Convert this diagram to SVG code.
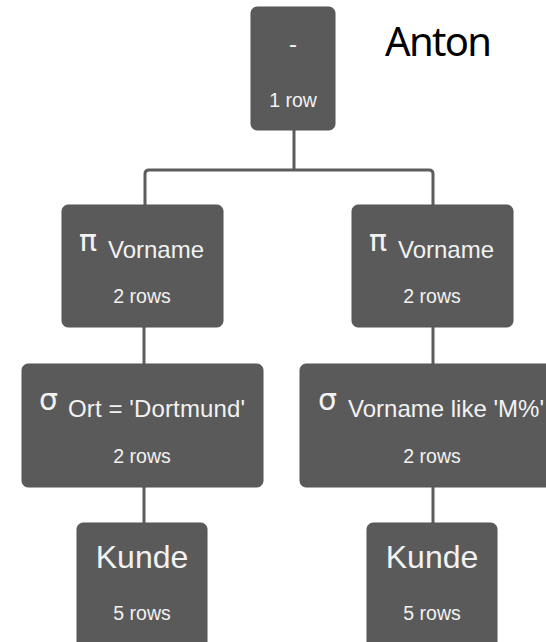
<svg xmlns="http://www.w3.org/2000/svg" width="546" height="642" viewBox="0 0 546 642">
<style>
.box{fill:#5a5a5a;stroke:#545454;stroke-width:1}
.conn{fill:none;stroke:#5c5c5c;stroke-width:3}
.t{font-family:"Liberation Sans",Arial,sans-serif;fill:#f2f2f2}
.title{font-size:24px}
.sym{font-size:30px;font-family:"DejaVu Sans","Liberation Sans",sans-serif;fill:#f2f2f2}
.rows{font-size:19.5px;text-anchor:middle}
.big{font-size:32px;text-anchor:middle}
.anton{font-family:"Noto Sans","Open Sans",sans-serif;font-size:40px;fill:#000}
</style>
<rect width="546" height="642" fill="#ffffff"/>
<g id="connectors">
<path class="conn" d="M294 130 V170"/>
<path class="conn" d="M145 205 V174 Q145 170 149 170 H429 Q433 170 433 174 V205"/>
<path class="conn" d="M144 327 V364"/>
<path class="conn" d="M433 327 V364"/>
<path class="conn" d="M144 487 V523"/>
<path class="conn" d="M433 487 V523"/>
</g>
<g id="node-diff">
<rect class="box" x="251" y="7" width="84" height="123" rx="6"/>
<text class="t title" x="293" y="52" text-anchor="middle">-</text>
<text class="t rows" x="293" y="107">1 row</text>
</g>
<g id="node-pi-left">
<rect class="box" x="62" y="205" width="161" height="122" rx="6"/>
<text class="sym" x="79" y="251">π</text>
<text class="t title" x="108" y="258">Vorname</text>
<text class="t rows" x="142" y="303">2 rows</text>
</g>
<g id="node-pi-right">
<rect class="box" x="352" y="205" width="161" height="122" rx="6"/>
<text class="sym" x="369" y="251">π</text>
<text class="t title" x="398" y="258">Vorname</text>
<text class="t rows" x="432" y="303">2 rows</text>
</g>
<g id="node-sigma-left">
<rect class="box" x="22" y="364" width="241" height="123" rx="6"/>
<text class="sym" x="39" y="410">σ</text>
<text class="t title" x="68" y="417" textLength="177">Ort = 'Dortmund'</text>
<text class="t rows" x="142" y="463">2 rows</text>
</g>
<g id="node-sigma-right">
<rect class="box" x="300" y="364" width="266" height="123" rx="6"/>
<text class="sym" x="318" y="410">σ</text>
<text class="t title" x="348" y="417" textLength="196">Vorname like 'M%'</text>
<text class="t rows" x="432" y="463">2 rows</text>
</g>
<g id="node-kunde-left">
<rect class="box" x="77" y="523" width="130" height="130" rx="6"/>
<text class="t big" x="142" y="568">Kunde</text>
<text class="t rows" x="142" y="620">5 rows</text>
</g>
<g id="node-kunde-right">
<rect class="box" x="367" y="523" width="130" height="130" rx="6"/>
<text class="t big" x="432" y="568">Kunde</text>
<text class="t rows" x="432" y="620">5 rows</text>
</g>
<text class="anton" x="385" y="56" textLength="107">Anton</text>
</svg>
